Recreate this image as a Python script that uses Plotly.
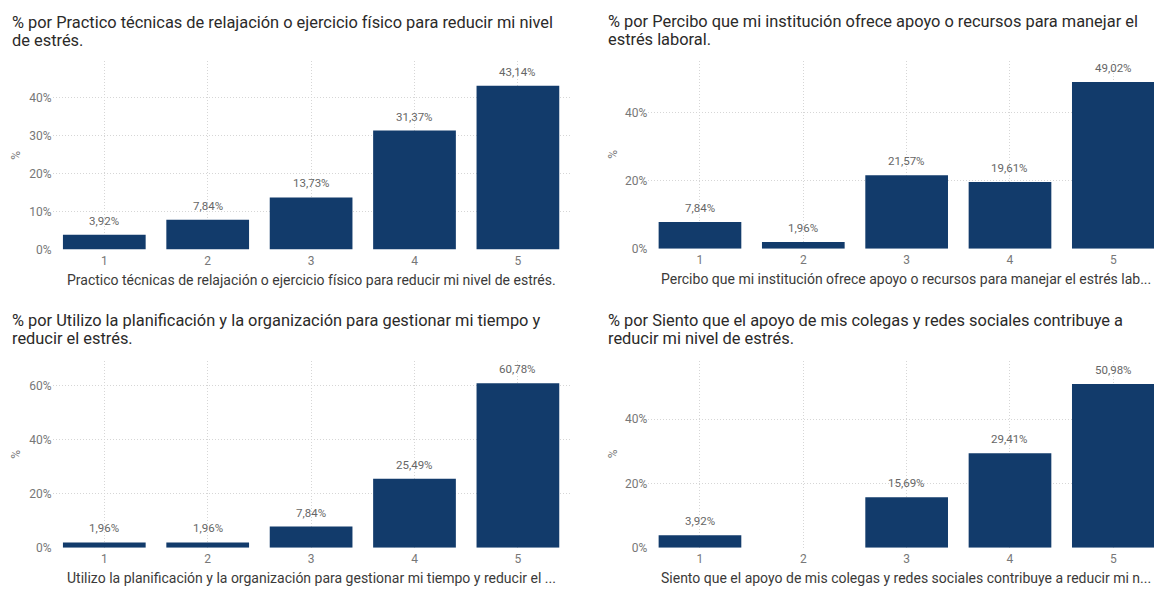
import plotly.graph_objects as go

# Likert responses 1..5 and share of answers (%) for each question
categories = [1, 2, 3, 4, 5]
tick_labels = ["1", "2", "3", "4", "5"]

relajacion = [3.92, 7.84, 13.73, 31.37, 43.14]
institucion = [7.84, 1.96, 21.57, 19.61, 49.02]
planificacion = [1.96, 1.96, 7.84, 25.49, 60.78]
colegas = [3.92, None, 15.69, 29.41, 50.98]

title_lines = [
    ["% por Practico técnicas de relajación o ejercicio físico para reducir mi nivel", "de estrés."],
    ["% por Percibo que mi institución ofrece apoyo o recursos para manejar el", "estrés laboral."],
    ["% por Utilizo la planificación y la organización para gestionar mi tiempo y", "reducir el estrés."],
    ["% por Siento que el apoyo de mis colegas y redes sociales contribuye a", "reducir mi nivel de estrés."],
]
x_titles = [
    "Practico técnicas de relajación o ejercicio físico para reducir mi nivel de estrés.",
    "Percibo que mi institución ofrece apoyo o recursos para manejar el estrés lab...",
    "Utilizo la planificación y la organización para gestionar mi tiempo y reducir el ...",
    "Siento que el apoyo de mis colegas y redes sociales contribuye a reducir mi n...",
]
y_ticks = [[0, 10, 20, 30, 40], [0, 20, 40], [0, 20, 40, 60], [0, 20, 40]]
y_max = [49.7, 55.2, 69.1, 58.2]

W, H = 1154, 593
BAR = "#123B6B"
TITLE_C = "#2b2a29"
XTITLE_C = "#3b3a39"
TICK_C = "#777777"
LABEL_C = "#666666"
GRID_C = "#d6d6d6"
FONT = "Roboto"


def px_x(v):
    return v / W


def px_y(v):
    return 1 - v / H


# panel geometry (pixels): plot left/right, baseline, top, title lines, x-title centre
panels = [
    dict(l=52.6, r=569.6, b=252.5, t=61.7, tx=10.4, ty=(22.7, 41.2), xt=311.0, ylab_x=16.6),
    dict(l=648.3, r=1165.0, b=251.7, t=61.7, tx=606.4, ty=(21.7, 40.2), xt=906.0, ylab_x=613.0),
    dict(l=52.6, r=569.6, b=554.3, t=365.0, tx=10.4, ty=(324.0, 342.5), xt=311.0, ylab_x=16.6),
    dict(l=648.3, r=1165.0, b=554.3, t=365.0, tx=606.4, ty=(324.0, 342.5), xt=906.0, ylab_x=613.0),
]

series = [relajacion, institucion, planificacion, colegas]

fig = go.Figure()
annotations = []
layout_axes = {}

for i, (vals, p) in enumerate(zip(series, panels)):
    n = "" if i == 0 else str(i + 1)
    fig.add_trace(go.Bar(
        x=categories, y=vals,
        xaxis="x" + n, yaxis="y" + n,
        marker=dict(color=BAR, line=dict(width=0)),
        width=0.8,
        showlegend=False,
        hoverinfo="skip",
    ))

    # value labels above each bar
    for c, v in zip(categories, vals):
        if v is None:
            continue
        annotations.append(dict(
            text=f"{v:.2f}%".replace(".", ","),
            xref="x" + n, yref="y" + n, x=c, y=v,
            xanchor="center", yanchor="bottom", yshift=5, showarrow=False,
            font=dict(family=FONT, size=11.5, color=LABEL_C),
        ))

    right = min(p["r"], W)
    span = p["r"] - p["l"]
    x_hi = 0.5 + 5.0 * (right - p["l"]) / span

    layout_axes["xaxis" + n] = dict(
        domain=[px_x(p["l"]), px_x(right)],
        anchor="y" + n,
        range=[0.5, x_hi],
        tickvals=categories, ticktext=tick_labels,
        showgrid=True, gridcolor=GRID_C, griddash="1px,2px", gridwidth=1,
        zeroline=False, showline=False, ticks="",
        ticklabelstandoff=2,
        tickfont=dict(family=FONT, size=12, color=TICK_C),
        fixedrange=True,
    )
    layout_axes["yaxis" + n] = dict(
        domain=[px_y(p["b"]), px_y(p["t"])],
        anchor="x" + n,
        range=[0, y_max[i]],
        tickvals=y_ticks[i], ticktext=[f"{v}%" for v in y_ticks[i]],
        showgrid=True, gridcolor=GRID_C, griddash="1px,2px", gridwidth=1,
        zeroline=False, showline=False, ticks="",
        tickfont=dict(family=FONT, size=12, color=TICK_C),
        fixedrange=True,
    )

    for line, ly in zip(title_lines[i], p["ty"]):
        annotations.append(dict(
            text=line, xref="paper", yref="paper",
            x=px_x(p["tx"]), y=px_y(ly),
            xanchor="left", yanchor="middle", align="left", showarrow=False,
            font=dict(family=FONT, size=16.4, color=TITLE_C),
        ))
    annotations.append(dict(
        text=x_titles[i], xref="paper", yref="paper",
        x=px_x(p["xt"]), y=px_y(p["b"] + 31),
        xanchor="center", yanchor="middle", showarrow=False,
        font=dict(family=FONT, size=14, color=XTITLE_C),
    ))
    annotations.append(dict(
        text="%", xref="paper", yref="paper",
        x=px_x(p["ylab_x"]), y=px_y((p["b"] + p["t"]) / 2),
        xanchor="center", yanchor="middle", textangle=-90, showarrow=False,
        font=dict(family=FONT, size=12, color=TICK_C),
    ))

fig.update_layout(
    width=W, height=H,
    margin=dict(l=0, r=0, t=0, b=0),
    paper_bgcolor="white", plot_bgcolor="white",
    annotations=annotations,
    **layout_axes,
)

fig.write_html("out.html", config=dict(displayModeBar=False))
